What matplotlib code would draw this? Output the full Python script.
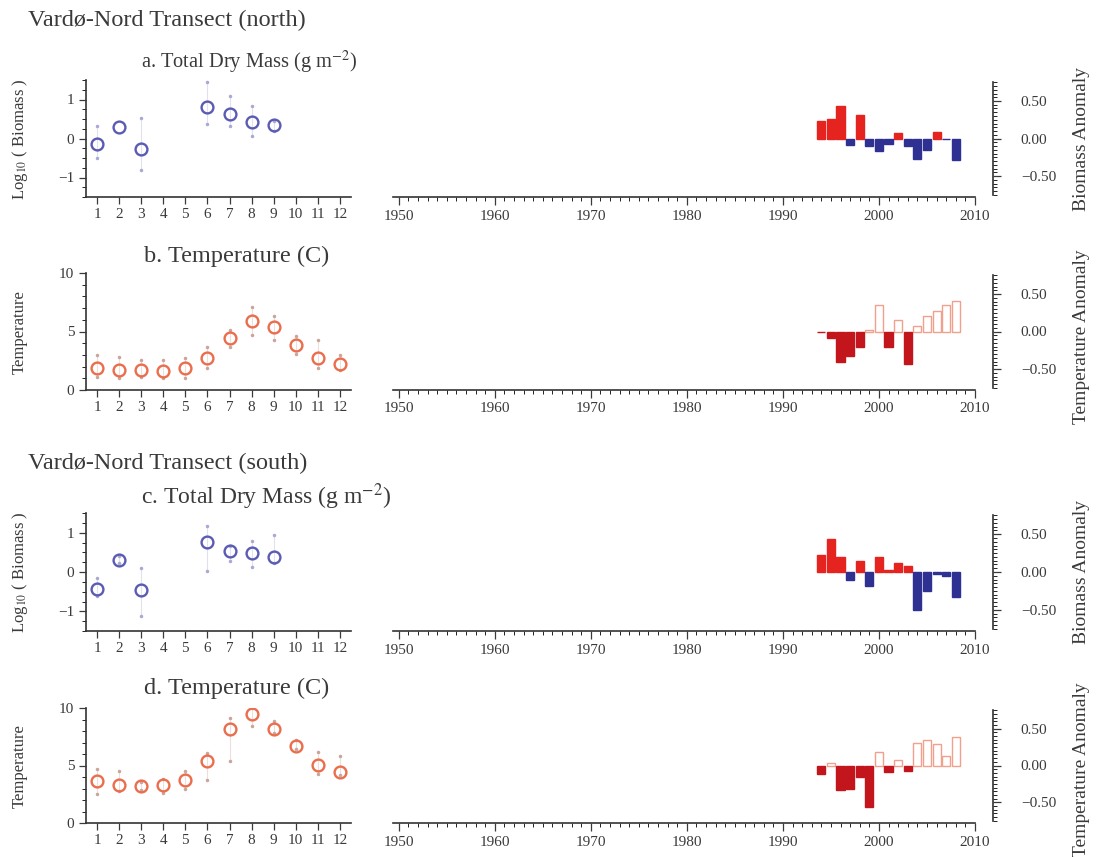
import numpy as np
import matplotlib
matplotlib.use("Agg")
import matplotlib.pyplot as plt
from matplotlib.ticker import MultipleLocator

plt.rcParams['font.family'] = ['Liberation Serif', 'DejaVu Serif']
plt.rcParams['mathtext.fontset'] = 'stix'

nan = np.nan
months = np.arange(1, 13)
years = np.arange(1994, 2009)

# monthly climatology (left panels)
bio_north = [-0.14, 0.30, -0.28, nan, nan, 0.82, 0.62, 0.42, 0.34, nan, nan, nan]
bio_north_hi = [0.32, nan, 0.53, nan, nan, 1.44, 1.10, 0.83, 0.45, nan, nan, nan]
bio_north_lo = [-0.50, nan, -0.80, nan, nan, 0.38, 0.32, 0.06, 0.19, nan, nan, nan]

temp_north = [1.91, 1.71, 1.71, 1.66, 1.86, 2.71, 4.43, 5.91, 5.37, 3.86, 2.71, 2.20]
temp_north_hi = [3.0, 2.86, 2.57, 2.57, 2.7, 3.7, 5.1, 7.1, 6.3, 4.6, 4.3, 3.0]
temp_north_lo = [1.14, 1.0, 1.14, 1.0, 1.0, 1.86, 3.7, 4.7, 4.3, 3.1, 1.86, 1.7]

bio_south = [-0.42, 0.31, -0.45, nan, nan, 0.76, 0.54, 0.48, 0.38, nan, nan, nan]
bio_south_hi = [-0.15, 0.40, 0.10, nan, nan, 1.16, 0.65, 0.78, 0.95, nan, nan, nan]
bio_south_lo = [-0.62, 0.22, -1.11, nan, nan, 0.02, 0.27, 0.13, 0.23, nan, nan, nan]

temp_south = [3.62, 3.33, 3.19, 3.28, 3.77, 5.42, 8.2, 9.5, 8.2, 6.72, 5.01, 4.46]
temp_south_hi = [4.7, 4.5, 3.6, 3.8, 4.55, 6.1, 9.1, 10.0, 8.85, 7.25, 6.2, 5.8]
temp_south_lo = [2.55, 2.75, 2.9, 2.6, 3.0, 3.7, 5.36, 8.4, 7.8, 6.4, 4.3, 4.2]

# yearly anomalies (right panels)
bio_anom_north = [0.23, 0.26, 0.44, -0.09, 0.32, -0.10, -0.16, -0.07, 0.07, -0.10, -0.27, -0.15, 0.09, -0.01, -0.28]
temp_anom_north = [-0.01, -0.09, -0.40, -0.33, -0.21, 0.02, 0.36, -0.20, 0.16, -0.43, 0.07, 0.21, 0.27, 0.36, 0.41]
bio_anom_south = [0.23, 0.44, 0.20, -0.10, 0.15, -0.19, 0.20, 0.02, 0.12, 0.08, -0.50, -0.25, -0.03, -0.05, -0.33]
temp_anom_south = [-0.12, 0.03, -0.33, -0.32, -0.15, -0.56, 0.18, -0.09, 0.08, -0.07, 0.31, 0.35, 0.29, 0.13, 0.39]

W, H = 1102, 857
fig = plt.figure(figsize=(W / 100, H / 100), dpi=100)

TXT = '#3a3a3a'
BLUE_PT = '#5b5bb3'
RED_PT = '#ea6d4c'


def rect(l, t, r, b):
    return [l / W, 1 - b / H, (r - l) / W, (b - t) / H]


def style_ticks(ax):
    ax.tick_params(colors='#3a3a3a', labelsize=11, width=0.9)
    for s in ax.spines.values():
        s.set_color('#333333')
        s.set_linewidth(1.2)


def left_panel(top, bottom, mean, lo, hi, color, dotcol, ylim, major, minor):
    ax = fig.add_axes(rect(86, top, 351, bottom))
    mean, lo, hi = np.array(mean), np.array(lo), np.array(hi)
    ax.vlines(months, lo, hi, color=dotcol, lw=0.8, alpha=0.35)
    ax.plot(months, lo, ls='none', marker='.', ms=3, color=dotcol)
    ax.plot(months, hi, ls='none', marker='.', ms=3, color=dotcol)
    ax.plot(months, mean, ls='none', marker='o', ms=8.5, mfc='none', mec=color, mew=1.7)
    ax.set_xlim(0.5, 12.5)
    ax.set_ylim(*ylim)
    ax.set_xticks(months)
    ax.yaxis.set_major_locator(MultipleLocator(major))
    ax.yaxis.set_minor_locator(MultipleLocator(minor))
    ax.spines['top'].set_visible(False)
    ax.spines['right'].set_visible(False)
    ax.tick_params(axis='x', length=5, pad=3)
    ax.tick_params(axis='y', which='major', length=5)
    ax.tick_params(axis='y', which='minor', length=3)
    style_ticks(ax)
    return ax


def right_panel(top, bottom, anom, pos_fc, pos_ec, neg_fc, neg_ec):
    ax = fig.add_axes(rect(393, top, 975, bottom))
    anom = np.array(anom)
    pos = anom >= 0
    ax.bar(years[pos], anom[pos], width=0.85, color=pos_fc, edgecolor=pos_ec, lw=1.0)
    ax.bar(years[~pos], anom[~pos], width=0.85, color=neg_fc, edgecolor=neg_ec, lw=1.0)
    ax.set_xlim(1949.4, 2010)
    ax.set_ylim(-0.78, 0.78)
    ax.xaxis.set_major_locator(MultipleLocator(10))
    ax.xaxis.set_minor_locator(MultipleLocator(1))
    ax.yaxis.set_major_locator(MultipleLocator(0.5))
    ax.yaxis.set_minor_locator(MultipleLocator(0.05))
    ax.yaxis.tick_right()
    ax.yaxis.set_major_formatter(lambda v, p: f"{v:.2f}".replace('-', '\u2212'))
    ax.spines['top'].set_visible(False)
    ax.spines['left'].set_visible(False)
    ax.spines['right'].set_position(('outward', 13))
    ax.spines['right'].set_bounds(-0.75, 0.75)
    ax.tick_params(axis='x', which='major', length=6, pad=3)
    ax.tick_params(axis='x', which='minor', length=3)
    ax.tick_params(axis='y', which='major', length=6, pad=14)
    ax.tick_params(axis='y', which='minor', length=3)
    style_ticks(ax)
    return ax


# north
left_panel(80, 197, bio_north, bio_north_lo, bio_north_hi, BLUE_PT, '#a9a9d4', (-1.5, 1.5), 1, 0.25)
right_panel(80, 197, bio_anom_north, '#e5231f', '#e5231f', '#2e3192', '#2e3192')
left_panel(273, 390, temp_north, temp_north_lo, temp_north_hi, RED_PT, '#c9a59c', (0, 10), 5, 1)
right_panel(273, 390, temp_anom_north, 'white', '#f0a08c', '#c3161c', '#c3161c')

# south
left_panel(513, 631, bio_south, bio_south_lo, bio_south_hi, BLUE_PT, '#a9a9d4', (-1.5, 1.5), 1, 0.25)
right_panel(513, 631, bio_anom_south, '#e5231f', '#e5231f', '#2e3192', '#2e3192')
left_panel(708, 823, temp_south, temp_south_lo, temp_south_hi, RED_PT, '#c9a59c', (0, 10), 5, 1)
right_panel(708, 823, temp_anom_south, 'white', '#f0a08c', '#c3161c', '#c3161c')


def ftext(x, y, s, **kw):
    fig.text(x / W, 1 - y / H, s, color=TXT, **kw)


ftext(28, 20, "Vardø-Nord Transect (north)", fontsize=17.5, va='center', ha='left')
ftext(141, 62, "a. Total Dry Mass (g m$^{-2}$)", fontsize=14.7, va='center', ha='left')
ftext(144, 256, "b. Temperature (C)", fontsize=17.5, va='center', ha='left')
ftext(28, 463, "Vardø-Nord Transect (south)", fontsize=17.5, va='center', ha='left')
ftext(141, 497, "c. Total Dry Mass (g m$^{-2}$)", fontsize=17, va='center', ha='left')
ftext(144, 688, "d. Temperature (C)", fontsize=17.5, va='center', ha='left')

ftext(20, 139, "Log$_{10}$ ( Biomass )", fontsize=12, rotation=90, va='center', ha='center')
ftext(20, 332, "Temperature", fontsize=12, rotation=90, va='center', ha='center')
ftext(20, 572, "Log$_{10}$ ( Biomass )", fontsize=12, rotation=90, va='center', ha='center')
ftext(20, 766, "Temperature", fontsize=12, rotation=90, va='center', ha='center')

ftext(1082, 139, "Biomass Anomaly", fontsize=14, rotation=90, va='center', ha='center')
ftext(1082, 337, "Temperature Anomaly", fontsize=14, rotation=90, va='center', ha='center')
ftext(1082, 572, "Biomass Anomaly", fontsize=14, rotation=90, va='center', ha='center')
ftext(1082, 770, "Temperature Anomaly", fontsize=14, rotation=90, va='center', ha='center')

fig.savefig("out.png", dpi=100)
